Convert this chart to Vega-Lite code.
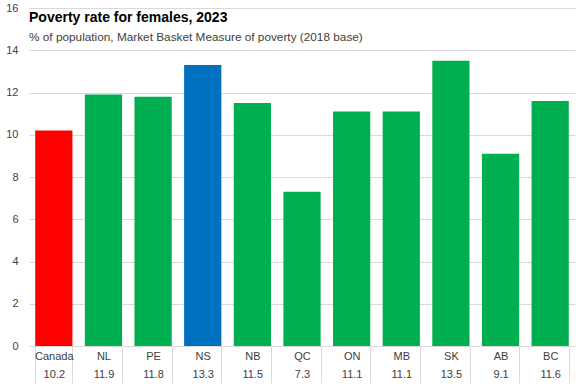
{
  "$schema": "https://vega.github.io/schema/vega-lite/v6.json",
  "width": 546,
  "height": 338,
  "autosize": "none",
  "padding": {"left": 29, "top": 8, "right": 2, "bottom": 39},
  "background": "white",
  "title": {
    "text": "Poverty rate for females, 2023",
    "subtitle": "% of population, Market Basket Measure of poverty (2018 base)",
    "anchor": "start",
    "frame": "group",
    "offset": -42,
    "font": "Liberation Sans",
    "fontSize": 14,
    "fontWeight": "bold",
    "color": "#000000",
    "subtitleFont": "Liberation Sans",
    "subtitleFontSize": 11.8,
    "subtitleColor": "#404040",
    "subtitlePadding": 7
  },
  "data": {
    "values": [
      {"region": "Canada", "rate": 10.2},
      {"region": "NL", "rate": 11.9},
      {"region": "PE", "rate": 11.8},
      {"region": "NS", "rate": 13.3},
      {"region": "NB", "rate": 11.5},
      {"region": "QC", "rate": 7.3},
      {"region": "ON", "rate": 11.1},
      {"region": "MB", "rate": 11.1},
      {"region": "SK", "rate": 13.5},
      {"region": "AB", "rate": 9.1},
      {"region": "BC", "rate": 11.6}
    ]
  },
  "transform": [
    {"calculate": "datum.region + '|' + format(datum.rate, '.1f')", "as": "label"}
  ],
  "mark": {"type": "bar"},
  "encoding": {
    "x": {
      "field": "label",
      "type": "nominal",
      "sort": null,
      "scale": {"paddingInner": 0.25, "paddingOuter": 0.125},
      "axis": {
        "title": null,
        "labelAngle": 0,
        "labelExpr": "split(datum.label, '|')",
        "labelLineHeight": 18,
        "labelPadding": -33,
        "labelBaseline": "top",
        "labelFont": "Liberation Sans",
        "labelFontSize": 11,
        "labelColor": "#404040",
        "tickBand": "extent",
        "tickSize": 37,
        "tickColor": "#d9d9d9",
        "domainColor": "#d9d9d9"
      }
    },
    "y": {
      "field": "rate",
      "type": "quantitative",
      "scale": {"domain": [0, 16], "nice": false},
      "axis": {
        "title": null,
        "values": [0, 2, 4, 6, 8, 10, 12, 14, 16],
        "grid": true,
        "gridColor": "#d9d9d9",
        "domain": false,
        "ticks": false,
        "labelPadding": 11,
        "labelFont": "Liberation Sans",
        "labelFontSize": 11,
        "labelColor": "#404040"
      }
    },
    "color": {
      "condition": [
        {"test": "datum.region === 'Canada'", "value": "#ff0000"},
        {"test": "datum.region === 'NS'", "value": "#0070c0"}
      ],
      "value": "#00b050"
    }
  },
  "config": {"view": {"stroke": null}}
}
